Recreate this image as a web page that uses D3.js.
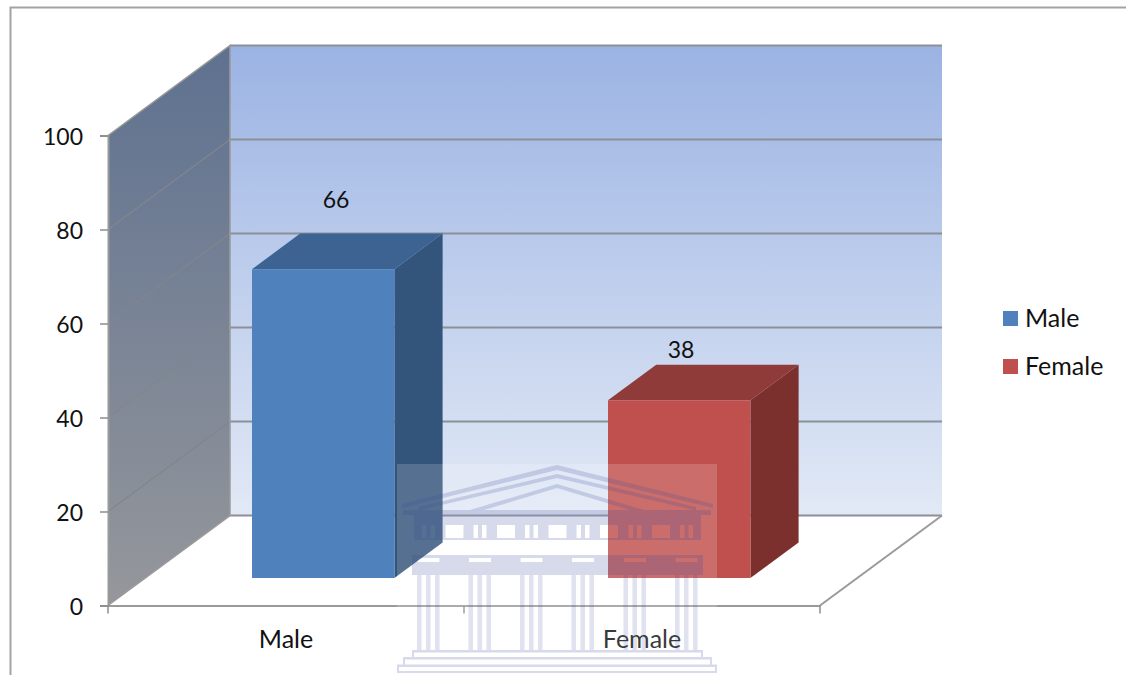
<!DOCTYPE html>
<html>
<head>
<meta charset="utf-8">
<style>
  html, body { margin: 0; padding: 0; background: #fff; overflow: hidden; }
  text { font-family: Lato, "Open Sans", sans-serif; fill: #111; }
</style>
<script src="https://cdnjs.cloudflare.com/ajax/libs/d3/7.8.5/d3.min.js"></script>
</head>
<body>
<div id="chart"></div>
<script>
// chart values
var categories = ["Male", "Female"];
var values = [66, 38];
var yTicks = [0, 20, 40, 60, 80, 100];

var svgWidth = 1126;
var svgHeight = 675;

var plot = { left: 108, right: 820, bottom: 605.5, top: 135.5 };
var depth = { x: 122, y: -90 };      // wall/floor depth
var barDepth = { from: 0.305, to: 0.7 };

var colors = {
  Male: { front: "#4f81bd", top: "#3c6391", side: "#33547b" },
  Female: { front: "#c0504d", top: "#8e3b39", side: "#7c302e" }
};

var svg = d3.select("#chart").append("svg")
  .attr("width", svgWidth)
  .attr("height", svgHeight)
  .style("display", "block");

var defs = svg.append("defs");

function gradient(id, top, bottom) {
  var g = defs.append("linearGradient").attr("id", id)
    .attr("x1", 0).attr("y1", 0).attr("x2", 0).attr("y2", 1);
  g.append("stop").attr("offset", "0%").attr("stop-color", top);
  g.append("stop").attr("offset", "100%").attr("stop-color", bottom);
}
gradient("backWall", "#9bb3e3", "#e2e9f6");
gradient("sideWall", "#5e7190", "#95979b");

var xScale = d3.scaleBand()
  .domain(categories)
  .range([plot.left, plot.right])
  .paddingInner(0.6)
  .paddingOuter(0.3);

var yScale = d3.scaleLinear()
  .domain([0, 100])
  .range([plot.bottom, plot.top]);

// bars come out a touch shorter than the wall scale in the original
var barScale = d3.scaleLinear()
  .domain([0, 100])
  .range([plot.bottom, plot.bottom - 468]);

// project a point from the front plane back into the chart depth
function px(x, d) { return x + d * depth.x; }
function py(y, d) { return y + d * depth.y; }
function poly(points) {
  return points.map(function(p) { return p.join(","); }).join(" ");
}

// chart border, runs off the page right and bottom
svg.append("path")
  .attr("d", "M10.5," + svgHeight + "V7.5H" + svgWidth)
  .attr("fill", "none")
  .attr("stroke", "#a3a3a3")
  .attr("stroke-width", 2);

var walls = svg.append("g");

// back wall
walls.append("rect")
  .attr("x", px(plot.left, 1))
  .attr("y", py(plot.top, 1))
  .attr("width", plot.right - plot.left)
  .attr("height", plot.bottom - plot.top)
  .attr("fill", "url(#backWall)");

// left wall
walls.append("polygon")
  .attr("points", poly([
    [plot.left, plot.top],
    [px(plot.left, 1), py(plot.top, 1)],
    [px(plot.left, 1), py(plot.bottom, 1)],
    [plot.left, plot.bottom]
  ]))
  .attr("fill", "url(#sideWall)");

// gridlines on both walls
walls.selectAll("line.back").data(yTicks).enter().append("line")
  .attr("class", "back")
  .attr("x1", px(plot.left, 1))
  .attr("x2", px(plot.right, 1))
  .attr("y1", function(d) { return py(yScale(d), 1); })
  .attr("y2", function(d) { return py(yScale(d), 1); })
  .attr("stroke", "#8b8f98")
  .attr("stroke-width", 2);

walls.selectAll("line.side").data(yTicks.slice(1, 5)).enter().append("line")
  .attr("class", "side")
  .attr("x1", plot.left)
  .attr("x2", px(plot.left, 1))
  .attr("y1", function(d) { return yScale(d); })
  .attr("y2", function(d) { return py(yScale(d), 1); })
  .attr("stroke", "#82858c")
  .attr("stroke-width", 1.2);

// wall and floor outline
walls.append("path")
  .attr("d", "M" + plot.left + "," + plot.top
    + "L" + px(plot.left, 1) + "," + py(plot.top, 1)
    + "V" + py(plot.bottom, 1)
    + "L" + plot.left + "," + plot.bottom)
  .attr("fill", "none")
  .attr("stroke", "#9a9a9a")
  .attr("stroke-width", 1.5);

walls.append("path")
  .attr("d", "M" + plot.right + "," + plot.bottom
    + "L" + px(plot.right, 1) + "," + py(plot.bottom, 1))
  .attr("fill", "none")
  .attr("stroke", "#9a9a9a")
  .attr("stroke-width", 2);

// y axis
var yAxis = d3.axisLeft(yScale).tickValues(yTicks).tickSize(8).tickPadding(17);
var yG = svg.append("g")
  .attr("transform", "translate(" + plot.left + ",0)")
  .call(yAxis);
yG.selectAll("text").style("font-size", "23px").attr("y", 2);
yG.selectAll("line").attr("stroke", "#8c8c8c").attr("stroke-width", 1.5);
yG.select(".domain").attr("stroke", "#9a9a9a").attr("stroke-width", 2);

// x axis, labels from the band scale, ticks at the band edges
var xAxis = d3.axisBottom(xScale).tickSize(0).tickPadding(25);
var xG = svg.append("g")
  .attr("transform", "translate(0," + plot.bottom + ")")
  .call(xAxis);
xG.selectAll("text").style("font-size", "25px");
xG.select(".domain").attr("stroke", "#9a9a9a").attr("stroke-width", 2);
xG.selectAll("line.edge").data([plot.left, (plot.left + plot.right) / 2, plot.right])
  .enter().append("line")
  .attr("class", "edge")
  .attr("x1", function(d) { return d; })
  .attr("x2", function(d) { return d; })
  .attr("y1", 0)
  .attr("y2", 8)
  .attr("stroke", "#8c8c8c")
  .attr("stroke-width", 1.5);

// 3d bars
var bars = svg.selectAll("g.bar")
  .data(categories.map(function(c, i) { return { name: c, value: values[i] }; }))
  .enter().append("g")
  .attr("class", "bar");

function barFace(d, face) {
  var x0 = xScale(d.name);
  var x1 = x0 + xScale.bandwidth();
  var y0 = barScale(0);
  var y1 = barScale(d.value);
  var a = barDepth.from;
  var b = barDepth.to;
  if (face === "front") {
    return [[px(x0, a), py(y1, a)], [px(x1, a), py(y1, a)], [px(x1, a), py(y0, a)], [px(x0, a), py(y0, a)]];
  }
  if (face === "top") {
    return [[px(x0, a), py(y1, a)], [px(x0, b), py(y1, b)], [px(x1, b), py(y1, b)], [px(x1, a), py(y1, a)]];
  }
  return [[px(x1, a), py(y1, a)], [px(x1, b), py(y1, b)], [px(x1, b), py(y0, b)], [px(x1, a), py(y0, a)]];
}

["side", "top", "front"].forEach(function(face) {
  bars.append("polygon")
    .attr("points", function(d) { return poly(barFace(d, face)); })
    .attr("fill", function(d) { return colors[d.name][face]; });
});

// data labels sit where they were dragged to in the original
var labelNudge = { Male: { x: 50, y: -69.5 }, Female: { x: 39, y: -50 } };
bars.append("text")
  .attr("x", function(d) { return xScale(d.name) + xScale.bandwidth() / 2 + labelNudge[d.name].x; })
  .attr("y", function(d) { return py(barScale(d.value), barDepth.from) + labelNudge[d.name].y; })
  .attr("dy", "0.35em")
  .attr("text-anchor", "middle")
  .style("font-size", "23px")
  .text(function(d) { return d.value; });

// legend
var legend = svg.selectAll("g.legend").data(categories).enter().append("g")
  .attr("class", "legend")
  .attr("transform", function(d, i) { return "translate(1003," + (311 + i * 48) + ")"; });
legend.append("rect")
  .attr("width", 15)
  .attr("height", 15)
  .attr("fill", function(d) { return colors[d].front; });
legend.append("text")
  .attr("x", 22)
  .attr("y", 7.5)
  .attr("dy", "0.35em")
  .style("font-size", "25px")
  .text(function(d) { return d; });

// university watermark over everything
var mark = svg.append("g");
mark.append("rect")
  .attr("x", 397).attr("y", 464).attr("width", 320).attr("height", 209)
  .attr("fill", "#fff").attr("opacity", 0.17);

function box(x, y, w, h) {
  return "M" + x + "," + y + "h" + w + "v" + h + "h" + (-w) + "Z";
}

var temple = mark.append("g").attr("fill", "#3a4a9a").attr("opacity", 0.2);
var columns = [428.5, 480, 531.5, 583, 635, 686.5];

// pediment, two stripes and the eave
temple.append("path")
  .attr("d", "M402,504 L557,465 L713,504 L713,508 L557,470 L402,508 Z"
    + " M418,507 L557,474 L696,507 L696,510.5 L557,478 L418,510.5 Z"
    + " M470,510 L557,484 L644,510 L630,510 L557,488 L484,510 Z"
    + box(403, 510, 308, 5)
    + box(414, 515, 287, 5));

// frieze, holes are the metopes and the slots between triglyphs
var frieze = box(414, 520, 287, 20);
columns.slice(0, 5).forEach(function(x) {
  frieze += box(x + 17, 525, 18, 13);
});
columns.forEach(function(x) {
  frieze += box(x - 6.5, 525, 4.5, 13) + box(x + 2, 525, 4.5, 13);
});
temple.append("path").attr("fill-rule", "evenodd").attr("d", frieze);

// lower band with the column caps cut out
var band = box(412, 555, 291, 20);
columns.forEach(function(x) {
  band += box(x - 11, 558, 22, 4);
});
temple.append("path").attr("fill-rule", "evenodd").attr("d", band);

// column shafts
var shafts = "";
columns.forEach(function(x) {
  shafts += box(x - 11.5, 575, 4.5, 75) + box(x - 2.5, 575, 4.5, 75) + box(x + 6.5, 575, 4.5, 75);
});
temple.append("path").attr("d", shafts).attr("fill-opacity", 0.75);

// steps
temple.append("path")
  .attr("d", box(412, 650, 291, 2.5) + box(403, 657, 309, 2.5)
    + box(397, 664.5, 320, 2.5) + box(397, 671, 320, 2)
    + box(412, 650, 2, 7) + box(701, 650, 2, 7)
    + box(403, 657, 2, 8) + box(710, 657, 2, 8)
    + box(397, 664.5, 2, 8) + box(715, 664.5, 2, 8));
</script>
</body>
</html>
